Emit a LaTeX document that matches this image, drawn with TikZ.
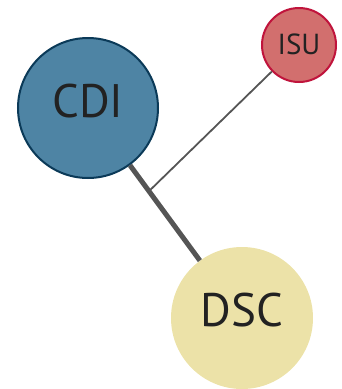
\documentclass[tikz,border=0pt]{standalone}
\usepackage{fontspec}
\setmainfont{PT Sans}
\usetikzlibrary{calc}
\definecolor{cdifill}{HTML}{4E84A4}
\definecolor{cdiline}{HTML}{0B3A58}
\definecolor{isufill}{HTML}{D26F6E}
\definecolor{isuline}{HTML}{C0143C}
\definecolor{dscfill}{HTML}{ECE2A8}
\definecolor{linkgray}{HTML}{555555}
\definecolor{txt}{HTML}{222222}
\tikzset{
  bubble/.style={circle, inner sep=0pt, text=txt},
  strong/.style={draw=linkgray, line width=5pt},
  weak/.style={draw=linkgray, line width=1.8pt},
}
\begin{document}
\begin{tikzpicture}[x=1pt,y=1pt]
\useasboundingbox (0,0) rectangle (342,-389);
\node[bubble, minimum size=140pt, fill=cdifill, draw=cdiline, line width=2pt, text depth=14pt, font=\fontsize{47}{47}\selectfont] (cdi) at (88,-108) {CDI};
\node[bubble, minimum size=74pt, fill=isufill, draw=isuline, line width=2pt, text depth=2pt, font=\fontsize{29}{29}\selectfont] (isu) at (299,-45) {ISU};
\node[bubble, minimum size=142pt, fill=dscfill, text depth=16pt, font=\fontsize{47}{47}\selectfont] (dsc) at (242,-318) {DSC};
\coordinate (j) at ($(cdi.center)!0.396!(dsc.center)$);
\draw[strong] (cdi) -- (dsc);
\draw[weak] (j) -- (isu);
\end{tikzpicture}
\end{document}
